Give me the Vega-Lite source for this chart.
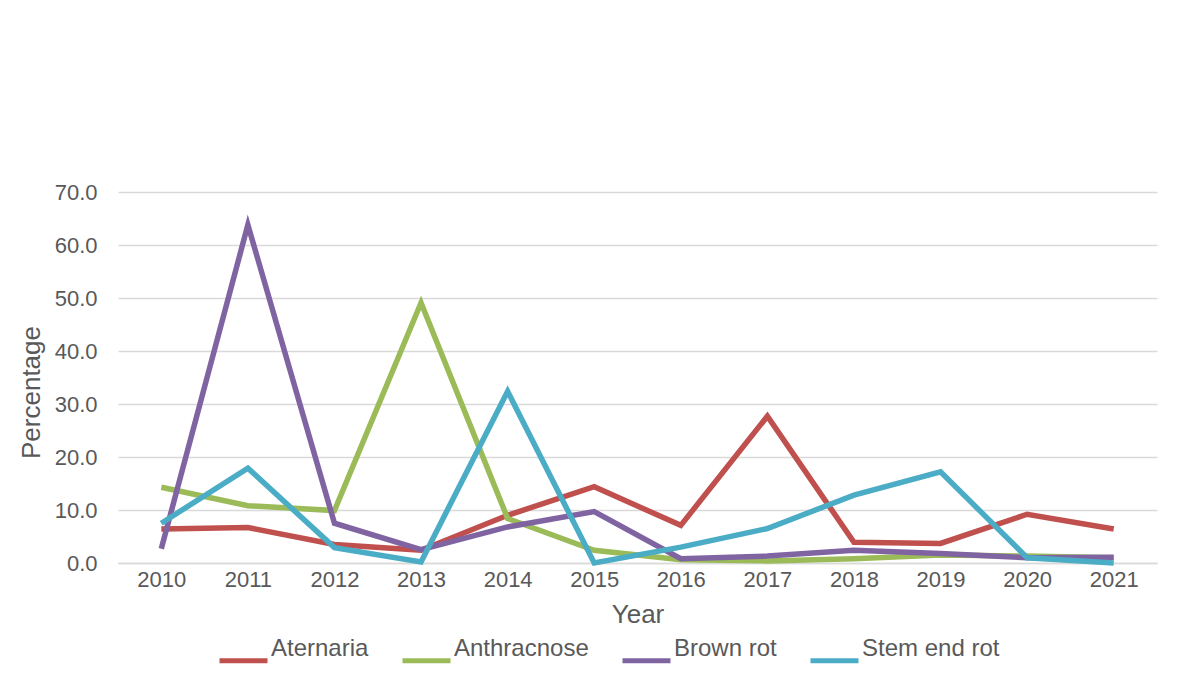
{
  "$schema": "https://vega.github.io/schema/vega-lite/v6.json",
  "autosize": "none",
  "width": 1039,
  "height": 371,
  "padding": {"left": 118, "top": 192, "right": 30, "bottom": 130},
  "background": "white",
  "data": {
    "values": [
      {"Year": 2010, "Disease": "Aternaria", "Percentage": 6.4},
      {"Year": 2011, "Disease": "Aternaria", "Percentage": 6.7},
      {"Year": 2012, "Disease": "Aternaria", "Percentage": 3.5},
      {"Year": 2013, "Disease": "Aternaria", "Percentage": 2.4},
      {"Year": 2014, "Disease": "Aternaria", "Percentage": 9.0},
      {"Year": 2015, "Disease": "Aternaria", "Percentage": 14.4},
      {"Year": 2016, "Disease": "Aternaria", "Percentage": 7.1},
      {"Year": 2017, "Disease": "Aternaria", "Percentage": 27.7},
      {"Year": 2018, "Disease": "Aternaria", "Percentage": 3.9},
      {"Year": 2019, "Disease": "Aternaria", "Percentage": 3.7},
      {"Year": 2020, "Disease": "Aternaria", "Percentage": 9.2},
      {"Year": 2021, "Disease": "Aternaria", "Percentage": 6.4},
      {"Year": 2010, "Disease": "Anthracnose", "Percentage": 14.3},
      {"Year": 2011, "Disease": "Anthracnose", "Percentage": 10.8},
      {"Year": 2012, "Disease": "Anthracnose", "Percentage": 9.9},
      {"Year": 2013, "Disease": "Anthracnose", "Percentage": 49.1},
      {"Year": 2014, "Disease": "Anthracnose", "Percentage": 8.4},
      {"Year": 2015, "Disease": "Anthracnose", "Percentage": 2.4},
      {"Year": 2016, "Disease": "Anthracnose", "Percentage": 0.6},
      {"Year": 2017, "Disease": "Anthracnose", "Percentage": 0.4},
      {"Year": 2018, "Disease": "Anthracnose", "Percentage": 0.8},
      {"Year": 2019, "Disease": "Anthracnose", "Percentage": 1.5},
      {"Year": 2020, "Disease": "Anthracnose", "Percentage": 1.3},
      {"Year": 2021, "Disease": "Anthracnose", "Percentage": 1.0},
      {"Year": 2010, "Disease": "Brown rot", "Percentage": 2.7},
      {"Year": 2011, "Disease": "Brown rot", "Percentage": 63.8},
      {"Year": 2012, "Disease": "Brown rot", "Percentage": 7.5},
      {"Year": 2013, "Disease": "Brown rot", "Percentage": 2.5},
      {"Year": 2014, "Disease": "Brown rot", "Percentage": 6.8},
      {"Year": 2015, "Disease": "Brown rot", "Percentage": 9.7},
      {"Year": 2016, "Disease": "Brown rot", "Percentage": 0.8},
      {"Year": 2017, "Disease": "Brown rot", "Percentage": 1.3},
      {"Year": 2018, "Disease": "Brown rot", "Percentage": 2.4},
      {"Year": 2019, "Disease": "Brown rot", "Percentage": 1.8},
      {"Year": 2020, "Disease": "Brown rot", "Percentage": 1.0},
      {"Year": 2021, "Disease": "Brown rot", "Percentage": 1.1},
      {"Year": 2010, "Disease": "Stem end rot", "Percentage": 7.5},
      {"Year": 2011, "Disease": "Stem end rot", "Percentage": 17.9},
      {"Year": 2012, "Disease": "Stem end rot", "Percentage": 2.9},
      {"Year": 2013, "Disease": "Stem end rot", "Percentage": 0.2},
      {"Year": 2014, "Disease": "Stem end rot", "Percentage": 32.4},
      {"Year": 2015, "Disease": "Stem end rot", "Percentage": 0.0},
      {"Year": 2016, "Disease": "Stem end rot", "Percentage": 3.0},
      {"Year": 2017, "Disease": "Stem end rot", "Percentage": 6.5},
      {"Year": 2018, "Disease": "Stem end rot", "Percentage": 12.8},
      {"Year": 2019, "Disease": "Stem end rot", "Percentage": 17.2},
      {"Year": 2020, "Disease": "Stem end rot", "Percentage": 1.0},
      {"Year": 2021, "Disease": "Stem end rot", "Percentage": 0.0}
    ]
  },
  "mark": {"type": "line", "strokeWidth": 5.5, "strokeCap": "butt", "strokeJoin": "miter"},
  "encoding": {
    "x": {
      "field": "Year",
      "type": "ordinal",
      "scale": {"type": "point", "padding": 0.5},
      "axis": {
        "labelAngle": 0,
        "labelFontSize": 22,
        "labelColor": "#595959",
        "labelPadding": 6,
        "ticks": false,
        "domain": true,
        "domainColor": "#d9d9d9",
        "domainWidth": 1.3,
        "grid": false,
        "title": "Year",
        "titleFontSize": 26,
        "titleFontWeight": "normal",
        "titleColor": "#595959",
        "titlePadding": 11
      }
    },
    "y": {
      "field": "Percentage",
      "type": "quantitative",
      "scale": {"domain": [0, 70], "nice": false},
      "axis": {
        "values": [0, 10, 20, 30, 40, 50, 60, 70],
        "format": ".1f",
        "labelFontSize": 22,
        "labelColor": "#595959",
        "labelPadding": 21,
        "ticks": false,
        "domain": false,
        "grid": true,
        "gridColor": "#d9d9d9",
        "gridWidth": 1.3,
        "title": "Percentage",
        "titleFontSize": 26,
        "titleFontWeight": "normal",
        "titleColor": "#595959",
        "titlePadding": 10,
        "titleY": 200
      }
    },
    "color": {
      "field": "Disease",
      "type": "nominal",
      "scale": {
        "domain": ["Aternaria", "Anthracnose", "Brown rot", "Stem end rot"],
        "range": ["#C0504D", "#9BBB59", "#8064A2", "#4BACC6"]
      },
      "legend": {
        "orient": "none",
        "legendX": 99,
        "legendY": 442,
        "direction": "horizontal",
        "title": null,
        "symbolType": "stroke",
        "symbolSize": 2304,
        "symbolStrokeWidth": 5,
        "labelFontSize": 24,
        "labelColor": "#595959",
        "labelOffset": 1,
        "labelBaseline": "bottom",
        "columnPadding": 23
      }
    }
  },
  "config": {
    "view": {"stroke": null},
    "font": "Liberation Sans"
  }
}
